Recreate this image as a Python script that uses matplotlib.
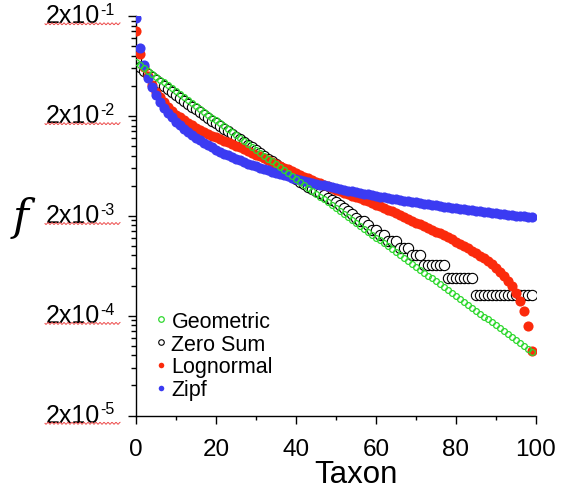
import numpy as np
import matplotlib
matplotlib.use('Agg')
import matplotlib.pyplot as plt
from matplotlib.lines import Line2D
from matplotlib.ticker import FixedLocator, NullFormatter

plt.rcParams['font.family'] = ['Liberation Sans', 'DejaVu Sans']

# ---------------- data ----------------
taxon = list(range(100))

geometric = [
    0.06930, 0.06478, 0.06055, 0.05660, 0.05291, 0.04946, 0.04623, 0.04322, 0.04040, 0.03776,
    0.03530, 0.03300, 0.03085, 0.02883, 0.02695, 0.02519, 0.02355, 0.02201, 0.02058, 0.01923,
    0.01798, 0.01681, 0.01571, 0.01469, 0.01373, 0.01283, 0.01200, 0.01121, 0.01048, 0.009799,
    0.009160, 0.008562, 0.008004, 0.007482, 0.006994, 0.006537, 0.006111, 0.005712, 0.005340, 0.004991,
    0.004666, 0.004361, 0.004077, 0.003811, 0.003562, 0.003330, 0.003113, 0.002910, 0.002720, 0.002542,
    0.002377, 0.002222, 0.002077, 0.001941, 0.001815, 0.001696, 0.001586, 0.001482, 0.001386, 0.001295,
    0.001211, 0.001132, 0.001058, 0.000989, 0.000925, 0.000864, 0.000808, 0.000755, 0.000706, 0.000660,
    0.000617, 0.000577, 0.000539, 0.000504, 0.000471, 0.000440, 0.000412, 0.000385, 0.000360, 0.000336,
    0.000314, 0.000294, 0.000275, 0.000257, 0.000240, 0.000224, 0.000210, 0.000196, 0.000183, 0.000171,
    0.000160, 0.000150, 0.000140, 0.000131, 0.000122, 0.000114, 0.000107, 0.000100, 0.0000934, 0.0000873,
]

zero_sum = [
    0.0750, 0.0620, 0.0557, 0.0521, 0.0487, 0.0455, 0.0425, 0.0398, 0.0372, 0.0347,
    0.0325, 0.0304, 0.0284, 0.0265, 0.0248, 0.0232, 0.0217, 0.0202, 0.0189, 0.0178,
    0.0168, 0.0158, 0.0149, 0.0140, 0.0132, 0.0124, 0.0117, 0.0110, 0.0103, 0.00972,
    0.00916, 0.00856, 0.00800, 0.00748, 0.00699, 0.00654, 0.00611, 0.00571, 0.00534, 0.00499,
    0.00467, 0.00438, 0.00412, 0.00387, 0.00368, 0.00352, 0.00336, 0.00320, 0.00304, 0.00288,
    0.00272, 0.00256, 0.00240, 0.00224, 0.00208, 0.00192, 0.00176, 0.00176, 0.00160, 0.00144,
    0.00144, 0.00128, 0.00128, 0.00112, 0.00112, 0.00112, 0.00096, 0.00096, 0.00096, 0.00080,
    0.00080, 0.00080, 0.00064, 0.00064, 0.00064, 0.00064, 0.00064, 0.00064, 0.00048, 0.00048,
    0.00048, 0.00048, 0.00048, 0.00048, 0.00048, 0.00032, 0.00032, 0.00032, 0.00032, 0.00032,
    0.00032, 0.00032, 0.00032, 0.00032, 0.00032, 0.00032, 0.00032, 0.00032, 0.00032, 0.00032,
]

lognormal = [
    0.143, 0.083, 0.062, 0.050, 0.041, 0.035, 0.031, 0.0277, 0.0247, 0.0224,
    0.0205, 0.0193, 0.0182, 0.01714, 0.01614, 0.0152, 0.0143, 0.01374, 0.0132, 0.0127,
    0.01225, 0.01178, 0.01132, 0.01091, 0.0105, 0.0101, 0.00973, 0.00933, 0.00893, 0.00855,
    0.00818, 0.00785, 0.00752, 0.00719, 0.00689, 0.00659, 0.00631, 0.00605, 0.00581, 0.00557,
    0.00535, 0.00514, 0.00494, 0.00475, 0.00457, 0.00440, 0.00424, 0.00408, 0.00394, 0.00379,
    0.00366, 0.00353, 0.00341, 0.00330, 0.00318, 0.00308, 0.00298, 0.00288, 0.00278, 0.00269,
    0.00259, 0.00250, 0.00240, 0.00230, 0.00221, 0.00212, 0.00203, 0.00195, 0.00186, 0.00178,
    0.00171, 0.00164, 0.00157, 0.00151, 0.00145, 0.00139, 0.00133, 0.00127, 0.00122, 0.00116,
    0.00110, 0.00105, 0.000998, 0.000946, 0.000895, 0.000845, 0.000796, 0.000748, 0.000700, 0.000652,
    0.000603, 0.000552, 0.000501, 0.000449, 0.000394, 0.000339, 0.000282, 0.000224, 0.000158, 0.0000891,
]

zipf = [
    0.193, 0.0965, 0.0643, 0.0483, 0.0386, 0.0322, 0.0276, 0.0241, 0.0214, 0.0193,
    0.0175, 0.0161, 0.0148, 0.0138, 0.0129, 0.0121, 0.0114, 0.0107, 0.0102, 0.00965,
    0.00919, 0.00877, 0.00839, 0.00804, 0.00772, 0.00742, 0.00715, 0.00689, 0.00666, 0.00643,
    0.00623, 0.00603, 0.00585, 0.00568, 0.00551, 0.00536, 0.00522, 0.00508, 0.00495, 0.00483,
    0.00471, 0.00460, 0.00449, 0.00439, 0.00429, 0.00420, 0.00411, 0.00402, 0.00394, 0.00386,
    0.00378, 0.00371, 0.00364, 0.00357, 0.00351, 0.00345, 0.00339, 0.00333, 0.00327, 0.00322,
    0.00316, 0.00311, 0.00306, 0.00302, 0.00297, 0.00292, 0.00288, 0.00284, 0.00280, 0.00276,
    0.00272, 0.00268, 0.00264, 0.00261, 0.00257, 0.00254, 0.00251, 0.00247, 0.00244, 0.00241,
    0.00238, 0.00235, 0.00233, 0.00230, 0.00227, 0.00224, 0.00222, 0.00219, 0.00217, 0.00214,
    0.00212, 0.00210, 0.00208, 0.00205, 0.00203, 0.00201, 0.00199, 0.00197, 0.00195, 0.00193,
]

series_labels = ['Geometric', 'Zero Sum', 'Lognormal', 'Zipf']
x_ticks = [0, 20, 40, 60, 80, 100]
x_minor_ticks = [10, 30, 50, 70, 90]
y_major = [2e-5, 2e-4, 2e-3, 2e-2, 2e-1]
y_exponents = ['-5', '-4', '-3', '-2', '-1']
y_minor_mult = [2, 3, 4, 5, 6, 7, 8, 9]

# ---------------- styles ----------------
GREEN = '#2ed82e'
RED = '#fb2a0c'
BLUE = '#3b3bf2'
BLACK = '#000000'
WAVE = '#ec4a4a'

W, H = 567, 489
fig = plt.figure(figsize=(W / 100, H / 100), dpi=100)
L, R, T, B = 136, 535.7, 17, 416.5
ax = fig.add_axes([L / W, 1 - B / H, (R - L) / W, (B - T) / H])
ax.set_yscale('log')
ax.set_xlim(0, 100)
ax.set_ylim(y_major[0], y_major[-1])
ax.patch.set_visible(False)
for s in ['top', 'right']:
    ax.spines[s].set_visible(False)
for s in ['left', 'bottom']:
    ax.spines[s].set_linewidth(1.0)

# series (drawing order: zero sum, lognormal, zipf, geometric)
ax.plot(taxon, zero_sum, ls='none', marker='o', ms=7.4, mfc='white', mec=BLACK, mew=0.8, zorder=2)
ax.plot(taxon, lognormal, ls='none', marker='o', ms=7.3, mfc=RED, mec=RED, mew=0, zorder=3)
ax.plot(taxon, zipf, ls='none', marker='o', ms=7.3, mfc=BLUE, mec=BLUE, mew=0, zorder=4)
ax.plot(taxon, geometric, ls='none', marker='o', ms=4.2, mfc='none', mec=GREEN, mew=0.9, zorder=5)

# ticks
ax.xaxis.set_major_locator(FixedLocator(x_ticks))
ax.xaxis.set_minor_locator(FixedLocator(x_minor_ticks))
ax.tick_params(axis='x', which='major', direction='out', length=6, width=1.0,
               labelsize=17.5, pad=10)
ax.tick_params(axis='x', which='minor', direction='out', length=3, width=1.0)
ax.yaxis.set_major_locator(FixedLocator(y_major))
y_minor = [d * m for d in y_major[:-1] for m in y_minor_mult]
ax.yaxis.set_minor_locator(FixedLocator(y_minor))
ax.yaxis.set_minor_formatter(NullFormatter())
ax.tick_params(axis='y', which='major', direction='out', length=6, width=1.0, labelleft=False)
ax.tick_params(axis='y', which='minor', direction='out', length=3.5, width=1.0, labelleft=False)

# custom y tick labels "2x10^-n" with wavy underline
for v, e in zip(y_major, y_exponents):
    ax.annotate('2x10', xy=(0, v), xycoords=('axes fraction', 'data'),
                xytext=(-36, -6.5), textcoords='offset pixels',
                ha='right', va='baseline', fontsize=18, annotation_clip=False)
    ax.annotate(e, xy=(0, v), xycoords=('axes fraction', 'data'),
                xytext=(-35.5, 2.0), textcoords='offset pixels',
                ha='left', va='baseline', fontsize=11.5, annotation_clip=False)
    tick_px = B - (B - T) * (np.log10(v) - np.log10(y_major[0])) / (np.log10(y_major[-1]) - np.log10(y_major[0]))
    wx = np.linspace(45, 120, 160)
    wy = tick_px + 7.8 + 0.9 * np.sin(2 * np.pi * (wx - 45) / 4.0)
    fig.add_artist(Line2D(wx / W, 1 - wy / H, transform=fig.transFigure,
                          color=WAVE, lw=0.7))

# axis labels
fig.text(356 / W, 1 - 475 / H, 'Taxon', ha='center', va='center', fontsize=22.5)
fig.text(21 / W, 1 - 218 / H, 'f', ha='center', va='center', fontsize=31,
         family=['DejaVu Serif'], style='italic')

# legend
handles = [
    Line2D([], [], ls='none', marker='o', ms=4.0, mfc='none', mec=GREEN, mew=0.9),
    Line2D([], [], ls='none', marker='o', ms=4.0, mfc='none', mec=BLACK, mew=0.8),
    Line2D([], [], ls='none', marker='o', ms=4.0, mfc=RED, mec=RED, mew=0),
    Line2D([], [], ls='none', marker='o', ms=4.0, mfc=BLUE, mec=BLUE, mew=0),
]
leg = ax.legend(handles, series_labels, loc='upper left',
                bbox_to_anchor=((155.3 - L) / (R - L), (B - 311.7) / (B - T)),
                frameon=False, fontsize=15.5, handlelength=0.5, handletextpad=0.25,
                labelspacing=0.085, borderpad=0, borderaxespad=0)

fig.savefig('out.png', dpi=100)
